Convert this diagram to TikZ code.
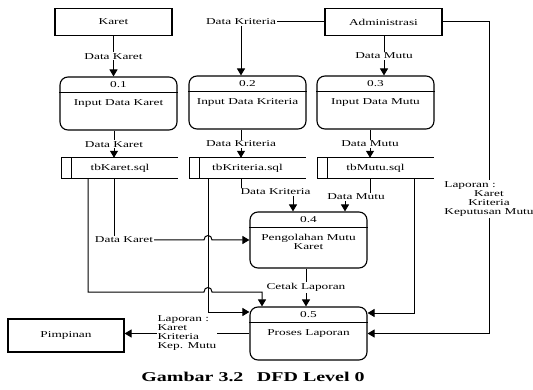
\documentclass[tikz,border=0pt]{standalone}
\usepackage{fontspec}
\setmainfont{Liberation Serif}[FakeStretch=1.48]
\usetikzlibrary{arrows.meta}

% process: name, centre, number, text
\newcommand{\Proses}[4]{
    \node[proses] (#1) at (#2) {};
    \draw[line width=0.8pt] ([yshift=-16pt]#1.north west) -- ([yshift=-16pt]#1.north east);
    \node (#1-no) at ([yshift=-8pt]#1.north) {#3};
    \node[anchor=north, align=center, inner sep=1pt] (#1-tx) at ([yshift=-22pt]#1.north) {#4};
}

% data store: name, centre, text
\newcommand{\Gudang}[3]{
    \node[gudang] (#1) at (#2) {#3};
    \draw[line width=0.9pt] (#1.north east) -- (#1.north west) -- (#1.south west) -- (#1.south east);
    \draw[line width=0.9pt] ([xshift=10pt]#1.north west) -- ([xshift=10pt]#1.south west);
}

\begin{document}
\begin{tikzpicture}[x=1pt, y=-1pt, font=\fontsize{9}{9}\selectfont,
    entitas/.style={draw, line width=1.1pt, minimum width=117pt, minimum height=27pt},
    proses/.style={draw, rounded corners=8pt, line width=1.1pt, minimum width=117pt, minimum height=53pt},
    gudang/.style={minimum width=116pt, minimum height=20pt, inner sep=0pt},
    alur/.style={line width=1pt, -{Triangle[width=8pt,length=7pt]}},
    garis/.style={line width=1pt},
    ket/.style={fill=white, inner sep=1pt}]
    \useasboundingbox (0,0) rectangle (533,390);

    % external entities
    \node[entitas] (karet) at (113.5,22) {Karet};
    \node[entitas] (admin) at (383.5,22) {Administrasi};
    \node[entitas, minimum width=116pt, minimum height=33pt] (pim) at (66,335.5) {Pimpinan};

    % processes
    \Proses{p1}{118.5,103.5}{0.1}{Input Data Karet}
    \Proses{p2}{247.5,102.5}{0.2}{Input Data Kriteria}
    \Proses{p3}{375.5,102.5}{0.3}{Input Data Mutu}
    \begin{scope}[proses/.append style={minimum height=56pt}]
        \Proses{p4}{308.5,240}{0.4}{Pengolahan Mutu\\Karet}
    \end{scope}
    \Proses{p5}{308.5,333.5}{0.5}{Proses Laporan}

    % data stores
    \Gudang{tbKaret}{120,168}{tbKaret.sql}
    \Gudang{tbKriteria}{247.5,168}{tbKriteria.sql}
    \Gudang{tbMutu}{375.5,168}{tbMutu.sql}

    % input flows
    \draw[alur] (karet.south) -- (karet.south |- p1.north) node[ket, midway] (f1) {Data Karet};
    \draw[alur] (admin.west) -| ([xshift=-6.5pt]p2.north) node[ket, pos=0.5] (f2) {Data Kriteria};
    \draw[alur] ([xshift=0.5pt]admin.south) -- ([xshift=0.5pt]admin.south |- p3.north) node[ket, midway] (f3) {Data Mutu};

    % process to store
    \draw[alur] ([xshift=-4.5pt]p1.south) -- ([xshift=-4.5pt]p1.south |- tbKaret.north) node[ket, midway] (f4) {Data Karet};
    \draw[alur] ([xshift=-6.5pt]p2.south) -- ([xshift=-6.5pt]p2.south |- tbKriteria.north) node[ket, midway] (f5) {Data Kriteria};
    \draw[alur] ([xshift=-5.5pt]p3.south) -- ([xshift=-5.5pt]p3.south |- tbMutu.north) node[ket, midway] (f6) {Data Mutu};

    % stores to 0.4
    \node[ket] (dk) at (124,240) {Data Karet};
    \node[ket] (dkr) at (275.5,192) {Data Kriteria};
    \node[ket] (dm) at (356,197) {Data Mutu};
    \draw[garis] ([xshift=-6pt]tbKaret.south) -- ([xshift=-6pt]tbKaret.south |- dk.north);
    \draw[alur] (dk.east) -- (204,240) .. controls (204,234) and (212,234) .. (212,240) -- (p4.west);
    \draw[garis] ([xshift=-6.5pt]tbKriteria.south) -- ([xshift=-6.5pt]tbKriteria.south |- dkr.north);
    \draw[alur] ([xshift=-15.5pt]p4.north |- dkr.south) -- ([xshift=-15.5pt]p4.north);
    \draw[garis] ([xshift=-5.5pt]tbMutu.south) -- ([xshift=-5.5pt]tbMutu.south |- dm.north);
    \draw[alur] ([xshift=36.5pt]p4.north |- dm.south) -- ([xshift=36.5pt]p4.north);

    % stores to 0.5
    \draw[alur] ([xshift=-32pt]tbKaret.south) -- (88,292) -- (204,292) .. controls (204,286) and (212,286) .. (212,292)
        -- (262,292) -- ([xshift=-46.5pt]p5.north);
    \draw[alur] ([xshift=-39.5pt]tbKriteria.south) |- ([yshift=21.5pt]p5.west);
    \draw[alur] ([xshift=38.5pt]tbMutu.south) |- ([yshift=20.5pt]p5.east);

    % 0.4 to 0.5
    \draw[alur] ([xshift=-2.5pt]p4.south) -- ([xshift=-2.5pt]p5.north) node[ket, midway] (f7) {Cetak Laporan};

    % administrasi to 0.5
    \node[ket] (lap) at (489,199) {\begin{tabular}{@{}c@{}}\multicolumn{1}{@{}l}{Laporan :}\\Karet\\Kriteria\\Keputusan Mutu\end{tabular}};
    \draw[garis] (admin.east) -| (lap.north);
    \draw[alur] (lap.south) |- (p5.east);

    % 0.5 to pimpinan
    \draw[alur] (p5.west) -- (p5.west -| pim.east) node[ket, midway, align=left] (lap2) {Laporan :\\Karet\\Kriteria\\Kep. Mutu};

    % caption
    \node[font=\fontsize{13.5}{13.5}\selectfont\bfseries] (judul) at (253,377) {Gambar 3.2\quad DFD Level 0};
\end{tikzpicture}
\end{document}
